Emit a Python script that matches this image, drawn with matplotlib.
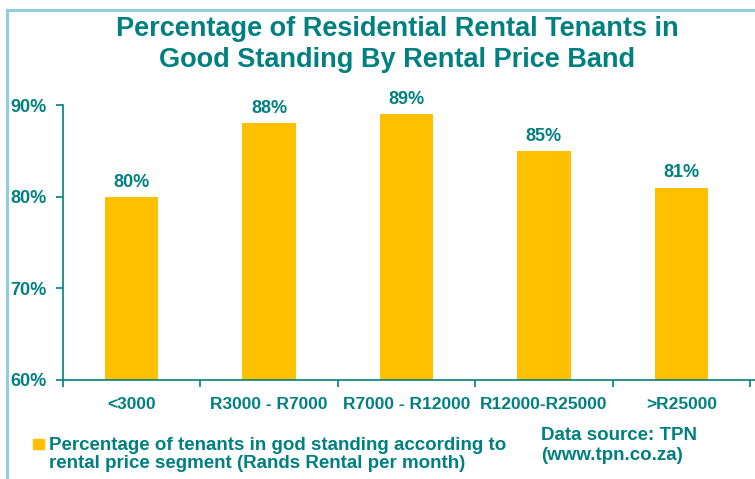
import matplotlib.pyplot as plt
from matplotlib.lines import Line2D
from matplotlib.patches import Rectangle

bands = ['<3000', 'R3000 - R7000', 'R7000 - R12000', 'R12000-R25000', '>R25000']
pct_good = [80, 88, 89, 85, 81]
y_ticks = [60, 70, 80, 90]

teal = '#008080'
gold = '#FFC000'

plt.rcParams['font.family'] = ['Liberation Sans', 'DejaVu Sans']
plt.rcParams['font.weight'] = 'bold'

W, H = 755, 479
fig = plt.figure(figsize=(W / 100, H / 100), dpi=100)

# light blue frame (only left and top visible)
fig.add_artist(Line2D([6.5 / W, 6.5 / W], [0, 1 - 9.5 / H], color='#92CDDC', lw=2.2))
fig.add_artist(Line2D([6.5 / W, 1], [1 - 9.5 / H, 1 - 9.5 / H], color='#92CDDC', lw=2.2))

ax = fig.add_axes([63 / W, 99 / H, (W - 63) / W, 275 / H])
x = list(range(len(bands)))
ax.bar(x, pct_good, width=0.39, bottom=0, color=gold, zorder=2)
ax.set_ylim(60, 90)
ax.set_xlim(-0.5, 4.5 + 5 / 137.4)

for xi, v in zip(x, pct_good):
    ax.text(xi, v + 1.6, f'{v}%', ha='center', va='center', color=teal,
            fontsize=13, fontweight='bold')

for s in ['top', 'right']:
    ax.spines[s].set_visible(False)
for s in ['left', 'bottom']:
    ax.spines[s].set_color(teal)
    ax.spines[s].set_linewidth(1.2)

ax.set_yticks(y_ticks)
ax.set_yticklabels([f'{t}%' for t in y_ticks], color=teal, fontsize=13, fontweight='bold')
ax.tick_params(axis='y', length=5, color=teal, width=1.2, pad=7)

ax.set_xticks([i - 0.5 for i in range(len(bands) + 1)])
ax.set_xticklabels([])
ax.tick_params(axis='x', length=5, color=teal, width=1.2)
ax.set_xticks(x, minor=True)
ax.set_xticklabels(bands, minor=True, color=teal, fontsize=12.5, fontweight='bold')
ax.tick_params(axis='x', which='minor', length=0, pad=12)

fig.text(397 / W, 1 - 29 / H, 'Percentage of Residential Rental Tenants in',
         ha='center', va='center', color=teal, fontsize=19.5, fontweight='bold')
fig.text(397 / W, 1 - 60 / H, 'Good Standing By Rental Price Band',
         ha='center', va='center', color=teal, fontsize=19.5, fontweight='bold')

fig.add_artist(Rectangle((33 / W, 1 - 449 / H), 11 / W, 10 / H, color=gold,
                         transform=fig.transFigure))
fig.text(49 / W, 1 - 445 / H, 'Percentage of tenants in god standing according to',
         ha='left', va='center', color=teal, fontsize=13.5, fontweight='bold')
fig.text(49 / W, 1 - 463 / H, 'rental price segment (Rands Rental per month)',
         ha='left', va='center', color=teal, fontsize=13.5, fontweight='bold')

fig.text(541 / W, 1 - 435 / H, 'Data source: TPN', ha='left', va='center',
         color=teal, fontsize=13.5, fontweight='bold')
fig.text(541 / W, 1 - 456 / H, '(www.tpn.co.za)', ha='left', va='center',
         color=teal, fontsize=13.5, fontweight='bold')

fig.savefig('out.png', dpi=100)
